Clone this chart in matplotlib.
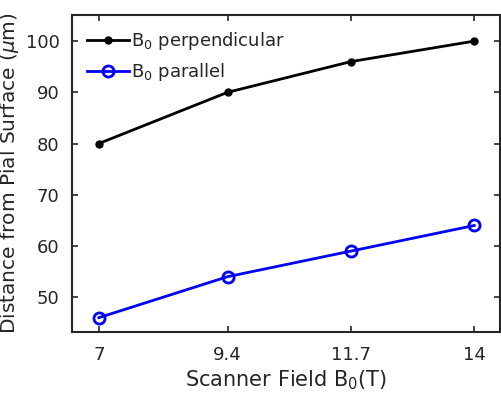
import matplotlib
matplotlib.use("Agg")
import matplotlib.pyplot as plt

field = [7, 9.4, 11.7, 14]
xtick_labels = ["7", "9.4", "11.7", "14"]
perpendicular = [80, 90, 96, 100]
parallel = [46, 54, 59, 64]

fig = plt.figure(figsize=(5.02, 3.98), dpi=100)
ax = fig.add_axes([72/502, 1-332/398, 428/502, 317/398])
ax.plot(field, perpendicular, '-o', color='black', lw=2, ms=5,
        markerfacecolor='black', label='B$_0$ perpendicular')
ax.plot(field, parallel, '-o', color='blue', lw=2, ms=8,
        markerfacecolor='none', mew=2, label='B$_0$ parallel')
ax.set_xlim(6.5, 14.48)
ax.set_ylim(43.2, 105.1)
ax.set_xticks(field)
ax.set_xticklabels(xtick_labels)
ax.set_yticks([50, 60, 70, 80, 90, 100])
ax.tick_params(direction='in', top=True, right=True, length=4, width=1.2,
               color='#262626', labelcolor='#262626', labelsize=13)
ax.tick_params(axis='x', pad=10)
ax.tick_params(axis='y', pad=9)
for s in ax.spines.values():
    s.set_linewidth(1.5)
    s.set_color('#262626')
ax.set_xlabel('Scanner Field B$_0$(T)', fontsize=15, color='#262626', labelpad=3)
ax.set_ylabel('Distance from Pial Surface ($\\mu$m)', fontsize=14.5, color='#262626', labelpad=3)
leg = ax.legend(loc='upper left', frameon=False, fontsize=13, handlelength=2.3,
                borderaxespad=0.45, labelspacing=0.5, handletextpad=0.1)
for t in leg.get_texts():
    t.set_color('#262626')
fig.savefig('out.png', dpi=100)
